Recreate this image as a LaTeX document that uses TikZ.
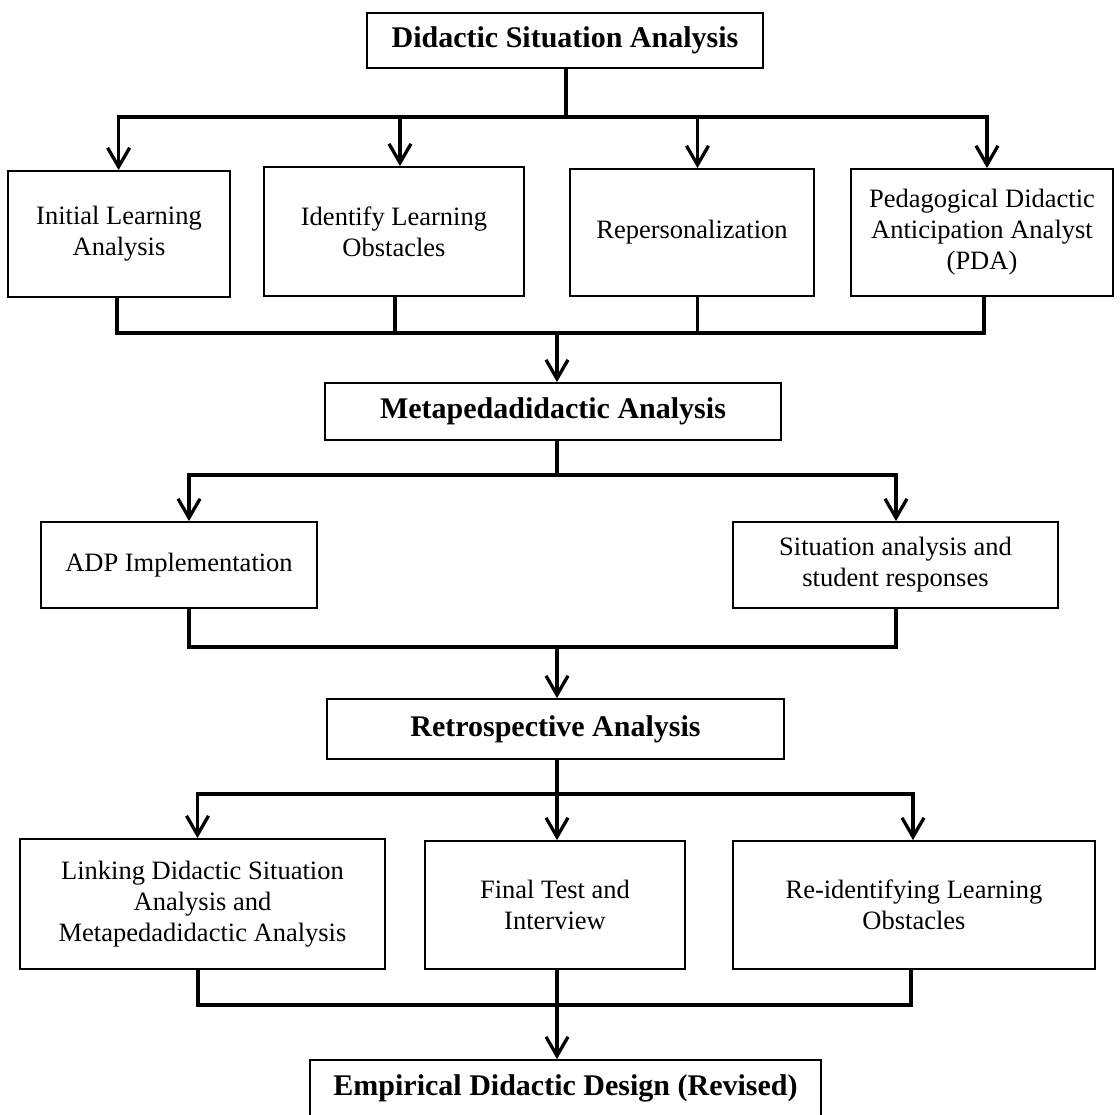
\documentclass[tikz,border=0pt]{standalone}
\usepackage{fontspec}
\setmainfont{Liberation Serif}
\usetikzlibrary{arrows.meta}
\begin{document}
\begin{tikzpicture}[x=1pt,y=-1pt,
  box/.style={draw, line width=1.8pt, align=center, inner sep=0pt,
    font=\fontsize{26.5}{31}\selectfont},
  hbox/.style={box, font=\fontsize{30}{34}\selectfont\bfseries},
  conn/.style={line width=3.3pt, line cap=rect},
  arr/.style={line width=3.3pt, -{Straight Barb[length=19pt,width=22pt]}}]
\useasboundingbox (0,0) rectangle (1120,1115);
\clip (0,0) rectangle (1120,1115);
\fill[white] (0,0) rectangle (1120,1115);

% level 1
\node[hbox, minimum width=396, minimum height=55] (top) at (565,40.5) {Didactic Situation Analysis};
\node[box, minimum width=222, minimum height=126] (b1) at (119,234) {Initial Learning\\Analysis};
\node[box, minimum width=260, minimum height=129] (b2) at (394,231.5) {Identify Learning\\Obstacles};
\node[box, minimum width=244, minimum height=127] (b3) at (692,232.5) {Repersonalization};
\node[box, minimum width=262, minimum height=127] (b4) at (982,232.5) {Pedagogical Didactic\\Anticipation Analyst\\(PDA)};

\coordinate (j1) at (566,117);
\coordinate (a1) at (118.6,117);
\coordinate (a2) at (400,117);
\coordinate (a3) at (697.5,117);
\coordinate (a4) at (987,117);
\draw[conn] (top.south -| j1) -- (j1);
\draw[conn] (a1) -- (a4);
\draw[arr] (a1) -- (b1.north -| a1);
\draw[arr] (a2) -- (b2.north -| a2);
\draw[arr] (a3) -- (b3.north -| a3);
\draw[arr] (a4) -- (b4.north -| a4);

% merge 1
\coordinate (m1) at (117,333);
\coordinate (m2) at (395,333);
\coordinate (m3) at (697.5,333);
\coordinate (m4) at (984,333);
\coordinate (j2) at (557,333);
\draw[conn] (b1.south -| m1) -- (m1) -- (m4) -- (b4.south -| m4);
\draw[conn] (b2.south -| m2) -- (m2);
\draw[conn] (b3.south -| m3) -- (m3);

\node[hbox, minimum width=456, minimum height=57] (meta) at (553,411.5) {Metapedadidactic Analysis};
\draw[arr] (j2) -- (meta.north -| j2);

% level 2
\coordinate (j3) at (557,475);
\coordinate (c1) at (189,475);
\coordinate (c2) at (896,475);
\node[box, minimum width=276, minimum height=86] (adp) at (179,565) {ADP Implementation};
\node[box, minimum width=325, minimum height=86] (sit) at (895.5,565) {Situation analysis and\\student responses};
\draw[conn] (meta.south -| j3) -- (j3);
\draw[conn] (c1) -- (c2);
\draw[arr] (c1) -- (adp.north -| c1);
\draw[arr] (c2) -- (sit.north -| c2);

\coordinate (n1) at (189,647);
\coordinate (n2) at (896,647);
\coordinate (j4) at (557,647);
\draw[conn] (adp.south -| n1) -- (n1) -- (n2) -- (sit.south -| n2);

\node[hbox, minimum width=457, minimum height=60] (retro) at (555.5,729) {Retrospective Analysis};
\draw[arr] (j4) -- (retro.north -| j4);

% level 3
\coordinate (j5) at (557,794);
\coordinate (d1) at (197.5,794);
\coordinate (d3) at (913,794);
\node[box, minimum width=365, minimum height=130] (bl) at (202.5,904) {Linking Didactic Situation\\Analysis and\\Metapedadidactic Analysis};
\node[box, minimum width=260, minimum height=128] (bm) at (555,905) {Final Test and\\Interview};
\node[box, minimum width=362, minimum height=128] (br) at (914,905) {Re-identifying Learning\\Obstacles};
\draw[conn] (retro.south -| j5) -- (j5);
\draw[conn] (d1) -- (d3);
\draw[arr] (d1) -- (bl.north -| d1);
\draw[arr] (j5) -- (bm.north -| j5);
\draw[arr] (d3) -- (br.north -| d3);

\coordinate (e1) at (198,1005);
\coordinate (e2) at (557,1005);
\coordinate (e3) at (911,1005);
\draw[conn] (bl.south -| e1) -- (e1) -- (e3) -- (br.south -| e3);
\draw[conn] (bm.south -| e2) -- (e2);

\node[hbox, minimum width=511, minimum height=66, text height=22pt, text depth=18pt] (final) at (565.5,1093) {Empirical Didactic Design (Revised)};
\draw[arr] (e2) -- (final.north -| e2);
\end{tikzpicture}
\end{document}
